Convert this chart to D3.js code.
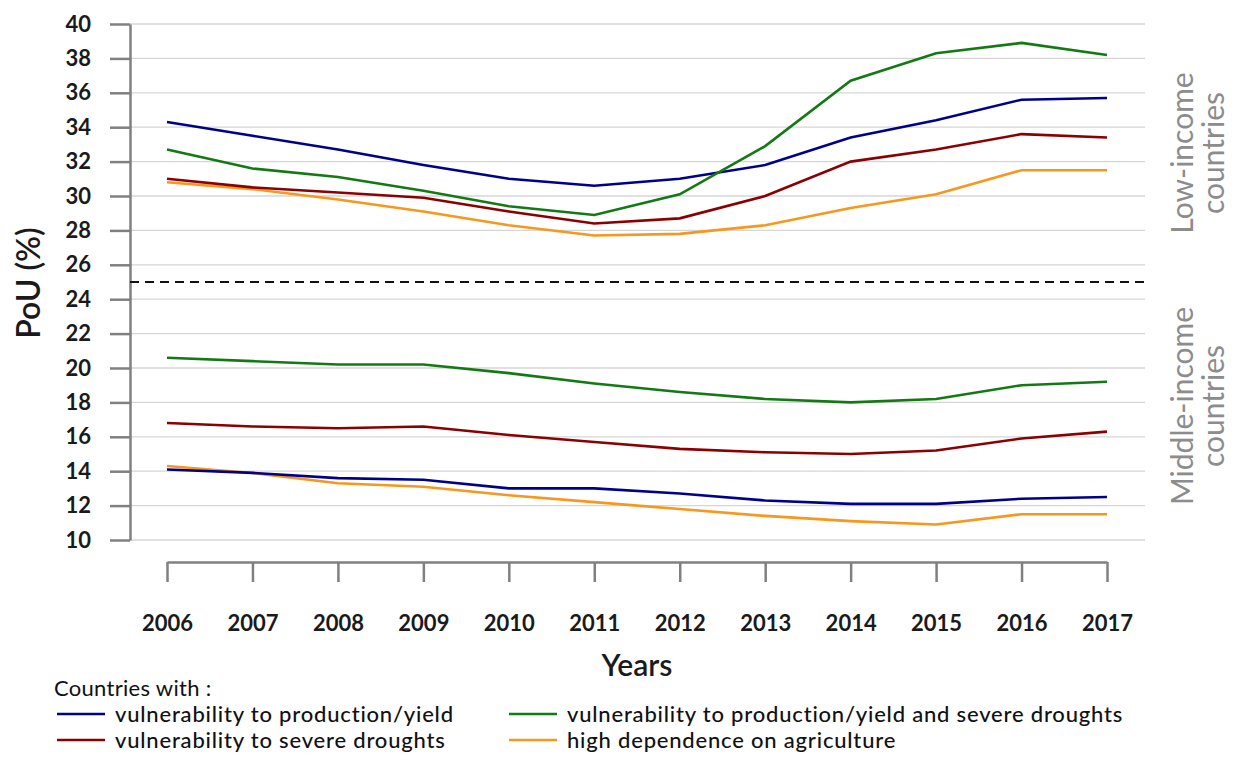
<!DOCTYPE html>
<html>
<head>
<meta charset="utf-8" />
<script src="https://d3js.org/d3.v7.min.js"></script>
<style>
  body { margin: 0; background: #fff; }
  text { font-family: Lato, "Open Sans", sans-serif; }
</style>
</head>
<body>
<script>
  // data
  var years = [2006, 2007, 2008, 2009, 2010, 2011, 2012, 2013, 2014, 2015, 2016, 2017];
  var yTicks = [10, 12, 14, 16, 18, 20, 22, 24, 26, 28, 30, 32, 34, 36, 38, 40];

  // low-income countries
  var lowProd    = [34.3, 33.5, 32.7, 31.8, 31.0, 30.6, 31.0, 31.8, 33.4, 34.4, 35.6, 35.7];
  var lowBoth    = [32.7, 31.6, 31.1, 30.3, 29.4, 28.9, 30.1, 32.9, 36.7, 38.3, 38.9, 38.2];
  var lowDrought = [31.0, 30.5, 30.2, 29.9, 29.1, 28.4, 28.7, 30.0, 32.0, 32.7, 33.6, 33.4];
  var lowAgri    = [30.8, 30.4, 29.8, 29.1, 28.3, 27.7, 27.8, 28.3, 29.3, 30.1, 31.5, 31.5];

  // middle-income countries
  var midProd    = [14.1, 13.9, 13.6, 13.5, 13.0, 13.0, 12.7, 12.3, 12.1, 12.1, 12.4, 12.5];
  var midBoth    = [20.6, 20.4, 20.2, 20.2, 19.7, 19.1, 18.6, 18.2, 18.0, 18.2, 19.0, 19.2];
  var midDrought = [16.8, 16.6, 16.5, 16.6, 16.1, 15.7, 15.3, 15.1, 15.0, 15.2, 15.9, 16.3];
  var midAgri    = [14.3, 13.9, 13.3, 13.1, 12.6, 12.2, 11.8, 11.4, 11.1, 10.9, 11.5, 11.5];

  var threshold = 25;

  var colProd = "#00008b", colBoth = "#137a13", colDrought = "#8b0000", colAgri = "#f7971d";

  var series = [
    { vals: lowAgri, color: colAgri }, { vals: lowDrought, color: colDrought },
    { vals: lowProd, color: colProd }, { vals: lowBoth, color: colBoth },
    { vals: midAgri, color: colAgri }, { vals: midProd, color: colProd },
    { vals: midDrought, color: colDrought }, { vals: midBoth, color: colBoth }
  ];

  var legendItems = [
    { label: "vulnerability to production/yield", color: colProd },
    { label: "vulnerability to production/yield and severe droughts", color: colBoth },
    { label: "vulnerability to severe droughts", color: colDrought },
    { label: "high dependence on agriculture", color: colAgri }
  ];

  var w = 1235, h = 778;
  var svg = d3.select("body").append("svg").attr("width", w).attr("height", h);

  var gridLeft = 130, gridRight = 1145;
  var x = d3.scaleLinear().domain([2006, 2017]).range([167, 1107]);
  var y = d3.scaleLinear().domain([10, 40]).range([540, 24]);

  // grid lines
  svg.append("g").selectAll("line").data(yTicks).enter().append("line")
     .attr("x1", gridLeft).attr("x2", gridRight)
     .attr("y1", function(d) { return y(d); }).attr("y2", function(d) { return y(d); })
     .attr("stroke", "#d6d6d6").attr("stroke-width", 1.3);

  // y axis
  var yAxis = d3.axisLeft(y).tickValues(yTicks).tickSize(20).tickSizeOuter(0).tickPadding(19);
  var gy = svg.append("g").attr("transform", "translate(" + gridLeft + ",0)").call(yAxis);
  gy.select(".domain").attr("stroke", "#808080").attr("stroke-width", 2.5);
  gy.selectAll(".tick line").attr("stroke", "#808080").attr("stroke-width", 2.5);
  gy.selectAll(".tick text").attr("fill", "#1a1a1a").style("font-size", "22px")
    .style("font-weight", "700").style("font-family", "Lato, sans-serif");

  // x axis (detached, below the plot)
  var xAxis = d3.axisBottom(x).tickValues(years).tickFormat(d3.format("d"))
                .tickSize(20).tickSizeOuter(0).tickPadding(33);
  var gx = svg.append("g").attr("transform", "translate(0,562)").call(xAxis);
  gx.select(".domain").attr("stroke", "#808080").attr("stroke-width", 2.5);
  gx.selectAll(".tick line").attr("stroke", "#808080").attr("stroke-width", 2.5);
  gx.selectAll(".tick text").attr("fill", "#1a1a1a").style("font-size", "22px")
    .style("font-weight", "700").style("font-family", "Lato, sans-serif");

  // threshold line
  svg.append("line")
     .attr("x1", gridLeft).attr("x2", gridRight)
     .attr("y1", y(threshold)).attr("y2", y(threshold))
     .attr("stroke", "#111").attr("stroke-width", 2).attr("stroke-dasharray", "9,6");

  // series
  var line = d3.line()
               .x(function(d, i) { return x(years[i]); })
               .y(function(d) { return y(d); });

  svg.append("g").selectAll("path").data(series).enter().append("path")
     .attr("d", function(d) { return line(d.vals); })
     .attr("fill", "none")
     .attr("stroke", function(d) { return d.color; })
     .attr("stroke-width", 2.6);

  // axis titles
  svg.append("text")
     .attr("transform", "translate(40,283) rotate(-90)")
     .attr("text-anchor", "middle")
     .style("font-size", "32px").style("font-weight", "600")
     .attr("fill", "#1a1a1a")
     .text("PoU (%)");

  svg.append("text")
     .attr("x", 637).attr("y", 676)
     .attr("text-anchor", "middle")
     .style("font-size", "30px").style("font-weight", "600")
     .attr("fill", "#1a1a1a")
     .text("Years");

  // group labels on the right
  function sideLabel(cy, l1, l2) {
    var t = svg.append("text")
               .attr("transform", "translate(1193," + cy + ") rotate(-90)")
               .attr("text-anchor", "middle")
               .style("font-size", "30px").attr("fill", "#8c8c8c");
    t.append("tspan").attr("x", 0).attr("dy", 0).text(l1);
    t.append("tspan").attr("x", 0).attr("dy", 31).text(l2);
  }
  sideLabel(153, "Low-income", "countries");
  sideLabel(406, "Middle-income", "countries");

  // legend
  svg.append("text")
     .attr("x", 54).attr("y", 696)
     .style("font-size", "22px").style("letter-spacing", "0.3px")
     .attr("fill", "#111")
     .text("Countries with :");

  var legCols = [57, 509], legRows = [714, 740];
  var leg = svg.append("g").selectAll("g").data(legendItems).enter().append("g")
               .attr("transform", function(d, i) {
                 return "translate(" + legCols[i % 2] + "," + legRows[Math.floor(i / 2)] + ")";
               });
  leg.append("line")
     .attr("x1", 0).attr("x2", 48).attr("y1", 0).attr("y2", 0)
     .attr("stroke", function(d) { return d.color; }).attr("stroke-width", 2.5);
  leg.append("text")
     .attr("x", 58).attr("y", 8)
     .style("font-size", "22px").style("letter-spacing", "0.8px")
     .style("font-weight", "500")
     .attr("fill", "#111")
     .text(function(d) { return d.label; });
</script>
</body>
</html>
